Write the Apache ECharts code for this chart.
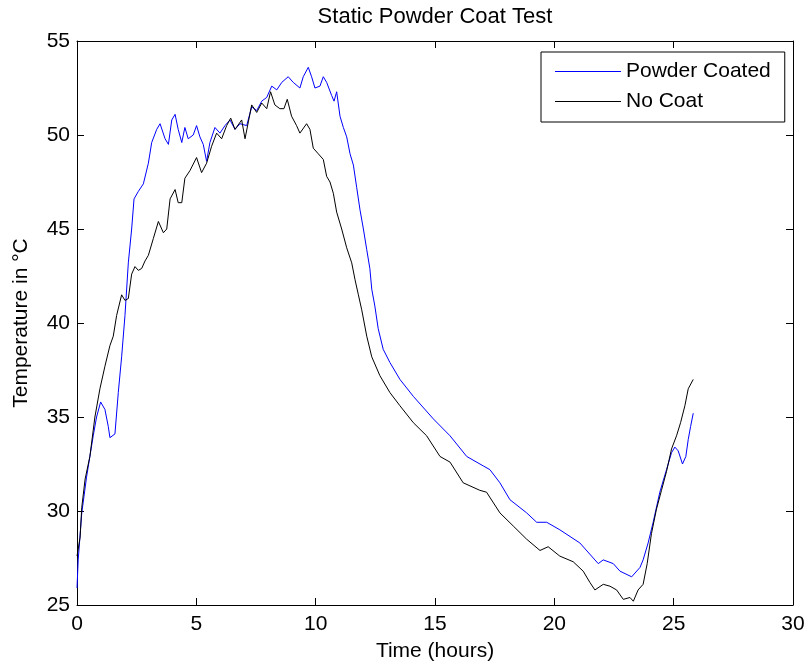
<!DOCTYPE html>
<html>
<head>
<meta charset="utf-8">
<script src="https://cdn.jsdelivr.net/npm/echarts@6/dist/echarts.min.js"></script>
<style>
  html, body { margin: 0; padding: 0; background: #fff; }
  #chart { width: 808px; height: 669px; }
</style>
</head>
<body>
<div id="chart"></div>
<script>
// values
var coatedHours = [0, 0.05, 0.2, 0.4, 0.68, 0.82, 0.99, 1.17, 1.31, 1.38, 1.59, 1.73, 1.87, 2.01, 2.15, 2.29, 2.39, 2.57, 2.78, 2.99,
  3.13, 3.34, 3.48, 3.69, 3.83, 3.97, 4.11, 4.24, 4.39, 4.52, 4.66, 4.87, 5.01, 5.15, 5.29, 5.43, 5.57, 5.78, 5.99, 6.2,
  6.41, 6.62, 6.83, 7.11, 7.32, 7.53, 7.74, 7.95, 8.16, 8.37, 8.58, 8.85, 9.06, 9.34, 9.48, 9.69, 9.83, 9.97, 10.18, 10.32,
  10.46, 10.67, 10.77, 10.88, 11.02, 11.16, 11.3, 11.44, 11.58, 11.72, 11.86, 12.0, 12.14, 12.27, 12.35, 12.48, 12.62, 12.83, 13.11, 13.53,
  14.09, 14.93, 15.63, 16.33, 17.02, 17.3, 17.72, 18.14, 18.84, 19.26, 19.68, 20.23, 21.07, 21.63, 21.84, 22.05, 22.47, 22.75, 23.24, 23.59,
  23.72, 23.93, 24.14, 24.42, 24.7, 24.91, 25.05, 25.19, 25.37, 25.51, 25.61, 25.71, 25.82];
var coatedTemp = [25.9, 27.4, 29.9, 31.8, 34.0, 35.0, 35.8, 35.4, 34.5, 33.9, 34.1, 36.3, 38.2, 40.4, 43.2, 45.0, 46.6, 47.0, 47.4, 48.5,
  49.6, 50.3, 50.6, 49.8, 49.5, 50.8, 51.1, 50.3, 49.6, 50.4, 49.8, 50.0, 50.5, 49.9, 49.5, 48.6, 49.6, 50.4, 50.1, 50.5,
  50.8, 50.3, 50.6, 50.5, 51.5, 51.3, 51.8, 52.0, 52.6, 52.4, 52.8, 53.1, 52.8, 52.5, 53.1, 53.6, 53.1, 52.5, 52.6, 53.1,
  52.8, 52.1, 51.8, 52.3, 51.0, 50.4, 49.9, 49.0, 48.4, 47.2, 46.0, 45.0, 43.9, 42.9, 41.8, 40.9, 39.7, 38.6, 37.9, 37.0,
  36.1, 34.9, 34.0, 32.9, 32.4, 32.2, 31.5, 30.6, 29.9, 29.4, 29.4, 29.0, 28.3, 27.5, 27.2, 27.4, 27.2, 26.8, 26.5, 27.0,
  27.4, 28.3, 29.4, 31.0, 32.2, 33.1, 33.4, 33.2, 32.5, 32.9, 33.8, 34.5, 35.2];

var noCoatHours = [0, 0.13, 0.2, 0.34, 0.54, 0.75, 0.96, 1.17, 1.38, 1.52, 1.66, 1.87, 2.01, 2.15, 2.29, 2.43, 2.57, 2.71, 2.85, 2.99,
  3.2, 3.41, 3.62, 3.76, 3.9, 4.11, 4.24, 4.39, 4.52, 4.73, 5.01, 5.22, 5.43, 5.64, 5.85, 6.06, 6.27, 6.44, 6.62, 6.9,
  7.04, 7.18, 7.32, 7.53, 7.74, 7.95, 8.11, 8.29, 8.5, 8.67, 8.81, 8.99, 9.2, 9.34, 9.62, 9.76, 9.9, 10.11, 10.32, 10.46,
  10.6, 10.74, 10.88, 11.09, 11.3, 11.51, 11.65, 11.79, 11.93, 12.14, 12.35, 12.69, 13.11, 13.53, 14.09, 14.65, 15.21, 15.63, 16.18, 16.88,
  17.16, 17.72, 18.28, 18.84, 19.4, 19.74, 20.23, 20.79, 21.21, 21.49, 21.7, 22.05, 22.33, 22.61, 22.89, 23.17, 23.31, 23.51, 23.72, 23.89,
  24.07, 24.28, 24.49, 24.7, 24.91, 25.12, 25.29, 25.47, 25.61, 25.82];
var noCoatTemp = [27.6, 28.6, 30.2, 31.7, 32.9, 35.0, 36.5, 37.7, 38.8, 39.3, 40.4, 41.5, 41.2, 41.3, 42.6, 43.0, 42.8, 42.9, 43.3, 43.6,
  44.5, 45.4, 44.8, 45.0, 46.6, 47.1, 46.4, 46.4, 47.7, 48.1, 48.8, 48.0, 48.5, 49.4, 50.1, 49.8, 50.5, 50.9, 50.3, 50.8,
  49.8, 50.7, 51.6, 51.2, 51.7, 51.4, 52.3, 51.6, 51.4, 51.4, 51.9, 51.0, 50.5, 50.1, 50.6, 50.3, 49.3, 49.0, 48.7, 47.8,
  47.5, 46.9, 45.9, 45.0, 44.0, 43.2, 42.3, 41.5, 40.7, 39.3, 38.2, 37.2, 36.3, 35.6, 34.7, 34.0, 32.9, 32.6, 31.5, 31.1,
  31.0, 29.9, 29.2, 28.5, 27.9, 28.1, 27.6, 27.3, 26.8, 26.2, 25.8, 26.1, 26.0, 25.8, 25.3, 25.4, 25.2, 25.8, 26.1, 27.2,
  28.8, 30.1, 31.1, 32.1, 33.3, 34.0, 34.7, 35.6, 36.5, 37.0];

var seriesNames = ['Powder Coated', 'No Coat'];
var seriesColors = ['#0000ff', '#000000'];

function pairs(xs, ys) {
  return xs.map(function (x, i) { return [x, ys[i]]; });
}

var font = 'Liberation Sans, Arial, sans-serif';
var tickStyle = { show: true, inside: true, length: 7, lineStyle: { color: '#000', width: 1 } };
var lineStyle = { show: true, onZero: false, lineStyle: { color: '#000', width: 1 } };

var chart = echarts.init(document.getElementById('chart'));
var option = {
  backgroundColor: '#fff',
  animation: false,
  title: {
    text: 'Static Powder Coat Test',
    left: 435,
    top: 6,
    padding: 0,
    textAlign: 'center',
    textStyle: { fontFamily: font, fontSize: 22, fontWeight: 'normal', color: '#000' }
  },
  legend: {
    orient: 'vertical',
    left: 541,
    top: 52,
    padding: [9, 14, 10, 14],
    icon: 'rect',
    itemWidth: 66,
    itemHeight: 1,
    itemGap: 9,
    borderColor: '#000',
    borderWidth: 1,
    borderRadius: 0,
    backgroundColor: '#fff',
    textStyle: { fontFamily: font, fontSize: 21, color: '#000' },
    data: seriesNames.map(function (n, i) {
      return { name: n, icon: 'rect', itemStyle: { color: seriesColors[i], borderWidth: 0 } };
    })
  },
  grid: { left: 77, right: 15, top: 41, bottom: 64 },
  xAxis: [
    {
      type: 'value', position: 'bottom', min: 0, max: 30, interval: 5,
      name: 'Time (hours)', nameLocation: 'middle', nameGap: 36,
      nameTextStyle: { fontFamily: font, fontSize: 21, color: '#000' },
      axisLine: lineStyle, axisTick: tickStyle,
      axisLabel: { fontFamily: font, fontSize: 21, color: '#000', margin: 9 },
      splitLine: { show: false }
    },
    {
      type: 'value', position: 'top', min: 0, max: 30, interval: 5,
      axisLine: lineStyle, axisTick: tickStyle,
      axisLabel: { show: false }, splitLine: { show: false }
    }
  ],
  yAxis: [
    {
      type: 'value', position: 'left', min: 25, max: 55, interval: 5,
      name: 'Temperature in \u00B0C', nameLocation: 'middle', nameGap: 45,
      nameTextStyle: { fontFamily: font, fontSize: 21, color: '#000' },
      axisLine: lineStyle, axisTick: tickStyle,
      axisLabel: { fontFamily: font, fontSize: 21, color: '#000', margin: 7 },
      splitLine: { show: false }
    },
    {
      type: 'value', position: 'right', min: 25, max: 55, interval: 5,
      axisLine: lineStyle, axisTick: tickStyle,
      axisLabel: { show: false }, splitLine: { show: false }
    }
  ],
  series: [
    {
      name: seriesNames[0],
      type: 'line',
      symbol: 'none',
      lineStyle: { color: seriesColors[0], width: 1 },
      itemStyle: { color: seriesColors[0] },
      data: pairs(coatedHours, coatedTemp)
    },
    {
      name: seriesNames[1],
      type: 'line',
      symbol: 'none',
      lineStyle: { color: seriesColors[1], width: 1 },
      itemStyle: { color: seriesColors[1] },
      data: pairs(noCoatHours, noCoatTemp)
    }
  ]
};
chart.setOption(option);
window.addEventListener('resize', function () {
  chart.resize();
});
</script>
</body>
</html>
